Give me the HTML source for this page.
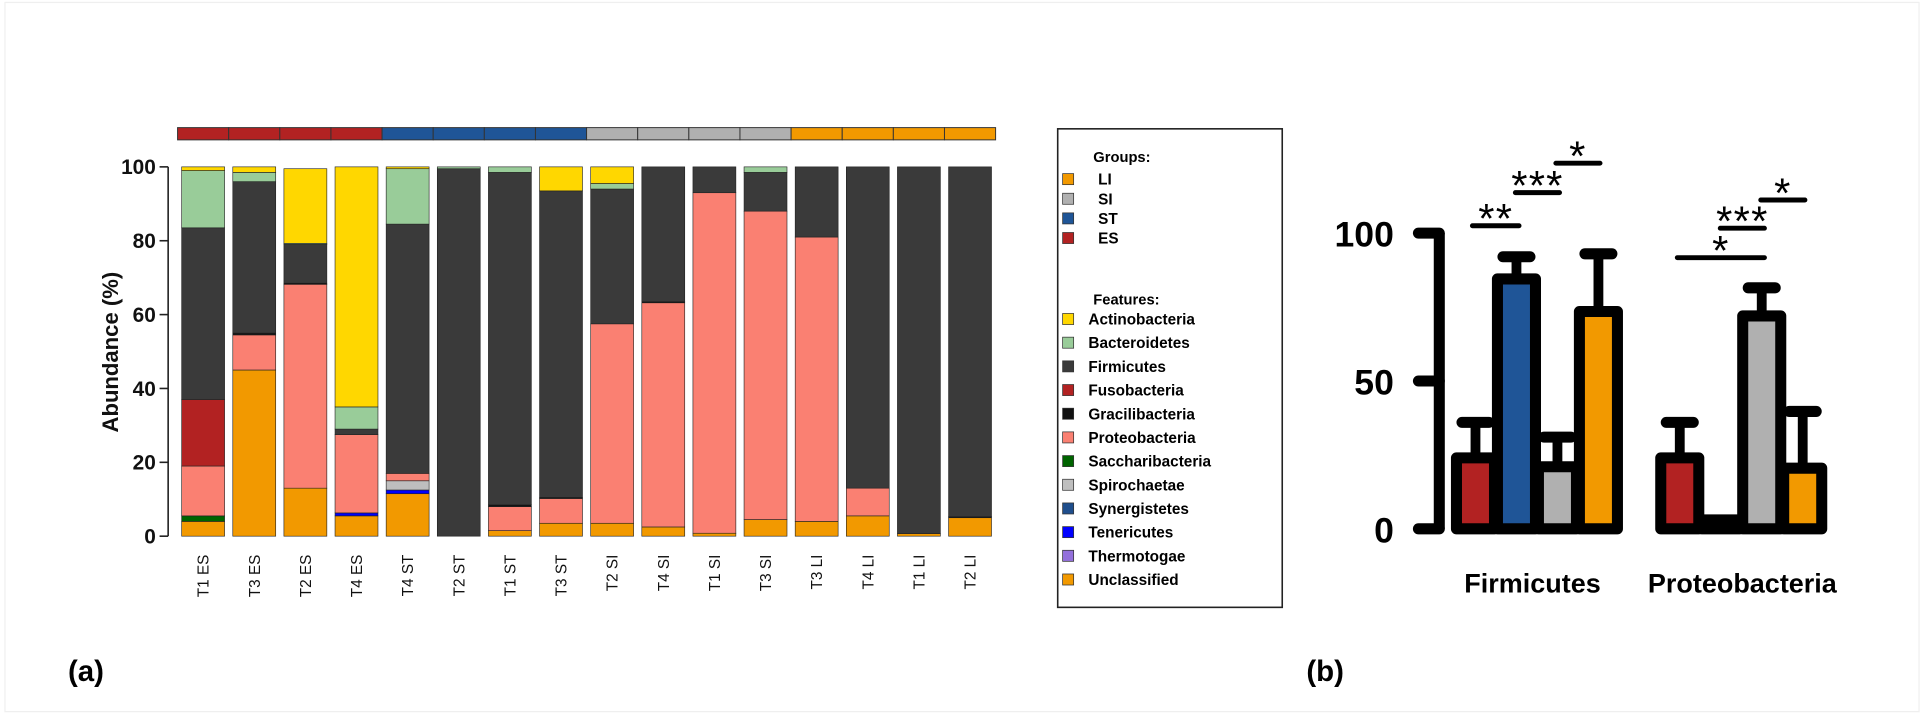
<!DOCTYPE html>
<html><head><meta charset="utf-8">
<style>
html,body{margin:0;padding:0;background:#fff;}
svg{display:block;font-family:"Liberation Sans",Arial,sans-serif;}
</style></head>
<body>
<svg id="fig" width="1924" height="719" viewBox="0 0 1568 586" xmlns="http://www.w3.org/2000/svg">
<rect x="4" y="2" width="1560" height="578" fill="#fff" stroke="#efefef" stroke-width="1"/>
<g id="pa"></g>
<g id="legend"></g>
<g id="pb"></g>
<text x="70" y="555" font-size="24" font-weight="bold" text-anchor="middle">(a)</text>
<text x="1080" y="555" font-size="24" font-weight="bold" text-anchor="middle">(b)</text>
</svg>
<script>
// ---- Panel (a) data ----
const samples = ["T1 ES","T3 ES","T2 ES","T4 ES","T4 ST","T2 ST","T1 ST","T3 ST","T2 SI","T4 SI","T1 SI","T3 SI","T3 LI","T4 LI","T1 LI","T2 LI"];
const sampleGroups = ["ES","ES","ES","ES","ST","ST","ST","ST","SI","SI","SI","SI","LI","LI","LI","LI"];
const features = ["Actinobacteria","Bacteroidetes","Firmicutes","Fusobacteria","Gracilibacteria","Proteobacteria","Saccharibacteria","Spirochaetae","Synergistetes","Tenericutes","Thermotogae","Unclassified"];
const featureColors = ["#FFD700","#99CC99","#3A3A3A","#B22222","#111111","#FA8072","#006400","#BEBEBE","#1F4E8C","#0000FF","#9370DB","#F29900"];
const groupNames = ["LI","SI","ST","ES"];
const groupColors = ["#F29900","#B0B0B0","#1F5597","#B22222"];
const actinobacteria   = [1,1.5,20.2,65,0.5,0,0,6.5,4.5,0,0,0,0,0,0,0];
const bacteroidetes    = [15.5,2.5,0.3,6,15,0.5,1.5,0,1.5,0,0,1.5,0,0,0,0];
const firmicutes       = [46.5,41,10.5,1.5,67.5,99.5,90,83,36.5,36.5,7,10.5,19,87,99.3,94.7];
const fusobacteria     = [18,0,0,0,0,0,0,0,0,0,0,0,0,0,0,0];
const gracilibacteria  = [0,0.5,0.3,0,0,0,0.5,0.3,0,0.3,0,0,0,0,0,0.3];
const proteobacteria   = [13.5,9.5,55.2,21.2,2,0,6.5,6.7,54,60.7,92.2,83.5,77,7.5,0,0];
const saccharibacteria = [1.5,0,0,0,0,0,0,0,0,0,0,0,0,0,0,0];
const spirochaetae     = [0,0,0,0,2.5,0,0,0,0,0,0,0,0,0,0,0];
const synergistetes    = [0,0,0,0,0,0,0,0,0,0,0,0,0,0,0,0];
const tenericutes      = [0,0,0,0.8,1,0,0,0,0,0,0,0,0,0,0,0];
const thermotogae      = [0,0,0,0,0,0,0,0,0,0,0,0,0,0,0,0];
const unclassified     = [4,45,13,5.5,11.5,0,1.5,3.5,3.5,2.5,0.8,4.5,4,5.5,0.7,5];
const yTicksA = [0,20,40,60,80,100];

// ---- Panel (b) data ----
const phyla = ["Firmicutes","Proteobacteria"];
const bGroups = ["ES","ST","SI","LI"];
const bColors = ["#B22222","#1F5597","#B0B0B0","#F29900"];
const firmMeans = [24,84.5,21,73.5];
const firmErr = [36,92,31,93];
const proteoMeans = [24,3,72,20.5];
const proteoErr = [36,3,81.5,39.7];
const yTicksB = [0,50,100];

const NS="http://www.w3.org/2000/svg";
function mk(tag,attrs,parent){const e=document.createElementNS(NS,tag);for(const k in attrs)e.setAttribute(k,attrs[k]);parent.appendChild(e);return e;}

// ===== Panel (a) =====
const pa=document.getElementById('pa');
const y0=437, y100=136;
const yA=v=>y0-(v/100)*(y0-y100);
const x0=165.5, pitch=41.67, bw=35;
const xA=i=>x0+i*pitch;
const featureArrays=[actinobacteria,bacteroidetes,firmicutes,fusobacteria,gracilibacteria,proteobacteria,saccharibacteria,spirochaetae,synergistetes,tenericutes,thermotogae,unclassified];

samples.forEach((s,i)=>{
  const gi=groupNames.indexOf(sampleGroups[i]);
  const r=mk('rect',{x:xA(i)-pitch/2,y:104,width:pitch,height:10,fill:groupColors[gi],stroke:'#333','stroke-width':0.8},pa);
  
  
});
samples.forEach((s,i)=>{
  const g=mk('g',{},pa);
  
  
  let cum=0;
  for(let f=features.length-1;f>=0;f--){
    const v=featureArrays[f][i];
    if(v<=0)continue;
    const r=mk('rect',{x:xA(i)-bw/2,y:yA(cum+v),width:bw,height:yA(cum)-yA(cum+v),fill:featureColors[f],stroke:'#222','stroke-width':0.5},g);
    
    
    cum+=v;
  }
  const t=mk('text',{x:0,y:0,'font-size':12.5,'text-anchor':'end',transform:`translate(${xA(i)+4.5},452) rotate(-90)`,fill:'#111'},pa);
  t.textContent=s;
  
  
});
const ax=mk('line',{x1:137,y1:y100,x2:137,y2:y0,stroke:'#222','stroke-width':1.3},pa);


yTicksA.forEach(v=>{
  mk('line',{x1:130,x2:137,y1:yA(v),y2:yA(v),stroke:'#222','stroke-width':1.3},pa);
  const t=mk('text',{x:127,y:yA(v)+6,'font-size':17,'font-weight':'bold','text-anchor':'end',fill:'#111'},pa);
  t.textContent=v;
  
  
});
const yt=mk('text',{x:0,y:0,'font-size':18,'font-weight':'bold','text-anchor':'middle',transform:'translate(96,287) rotate(-90)',fill:'#111'},pa);
yt.textContent='Abundance (%)';



// ===== Legend =====
const lg=document.getElementById('legend');
mk('rect',{x:862,y:105,width:183,height:390,fill:'#fff',stroke:'#222','stroke-width':1.3},lg);
const gt=mk('text',{x:891,y:132,'font-size':12,'font-weight':'bold'},lg);gt.textContent='Groups:';


groupNames.forEach((n,k)=>{
  const y=146+k*16;
  const r=mk('rect',{x:866,y:y-4.5,width:9,height:9,fill:groupColors[k],stroke:'#333','stroke-width':0.6},lg);
  
  
  const t=mk('text',{x:895,y:y+4.5,'font-size':12.5,'font-weight':'bold'},lg);t.textContent=n;
  
  
});
const ft=mk('text',{x:891,y:248,'font-size':12,'font-weight':'bold'},lg);ft.textContent='Features:';


features.forEach((n,k)=>{
  const y=260+k*19.3;
  const r=mk('rect',{x:866,y:y-4.5,width:9,height:9,fill:featureColors[k],stroke:'#333','stroke-width':0.6},lg);
  
  
  const t=mk('text',{x:887,y:y+4.5,'font-size':12.5,'font-weight':'bold'},lg);t.textContent=n;
  
  
});

// ===== Panel (b) =====
const pb=document.getElementById('pb');
const b0=431, b100=190;
const yB=v=>b0-(v/100)*(b0-b100);
const ax2=mk('line',{x1:1173,y1:yB(100),x2:1173,y2:yB(0),stroke:'#000','stroke-width':9},pb);


yTicksB.forEach(v=>{
  mk('line',{x1:1156,x2:1173,y1:yB(v),y2:yB(v),stroke:'#000','stroke-width':9,'stroke-linecap':'round'},pb);
  const t=mk('text',{x:1136,y:yB(v)+11,'font-size':29,'font-weight':'bold','text-anchor':'end'},pb);
  t.textContent=v;
  
  
});
const means=[firmMeans,proteoMeans], errs=[firmErr,proteoErr];
const groupStart=[1202.5,1369], bp=33.4;
phyla.forEach((p,pi)=>{
  const g=mk('g',{},pb);
  
  
  bGroups.forEach((gn,k)=>{
    const cx=groupStart[pi]+k*bp, m=means[pi][k], e=errs[pi][k];
    if(e>m){
      mk('line',{x1:cx,x2:cx,y1:yB(m),y2:yB(e),stroke:'#000','stroke-width':8},g);
      mk('line',{x1:cx-11,x2:cx+11,y1:yB(e),y2:yB(e),stroke:'#000','stroke-width':9,'stroke-linecap':'round'},g);
    }
  });
  bGroups.forEach((gn,k)=>{
    const cx=groupStart[pi]+k*bp, m=means[pi][k];
    const r=mk('rect',{x:cx-15.5,y:yB(m),width:31,height:yB(0)-yB(m),fill:m<5?'#000':bColors[k],stroke:'#000','stroke-width':9,'stroke-linejoin':'round'},g);
    
    
  });
  const t=mk('text',{x:pi?1420:1249,y:483,'font-size':22,'font-weight':'bold','text-anchor':'middle'},pb);
  t.textContent=p;
  
  
});
const sig=[[1200,1238,184,'**'],[1235,1271,157,'***'],[1268,1304,133,'*'],[1367,1438,210,'*'],[1402,1438,186,'***'],[1435,1471,163,'*']];
sig.forEach(s=>{
  const l=mk('line',{x1:s[0],x2:s[1],y1:s[2],y2:s[2],stroke:'#000','stroke-width':4,'stroke-linecap':'round'},pb);
  
  
  const t=mk('text',{x:(s[0]+s[1])/2,y:s[2]+6,'font-size':34,'text-anchor':'middle','letter-spacing':'1'},pb);
  t.textContent=s[3];
  
  
});
</script>
</body></html>
